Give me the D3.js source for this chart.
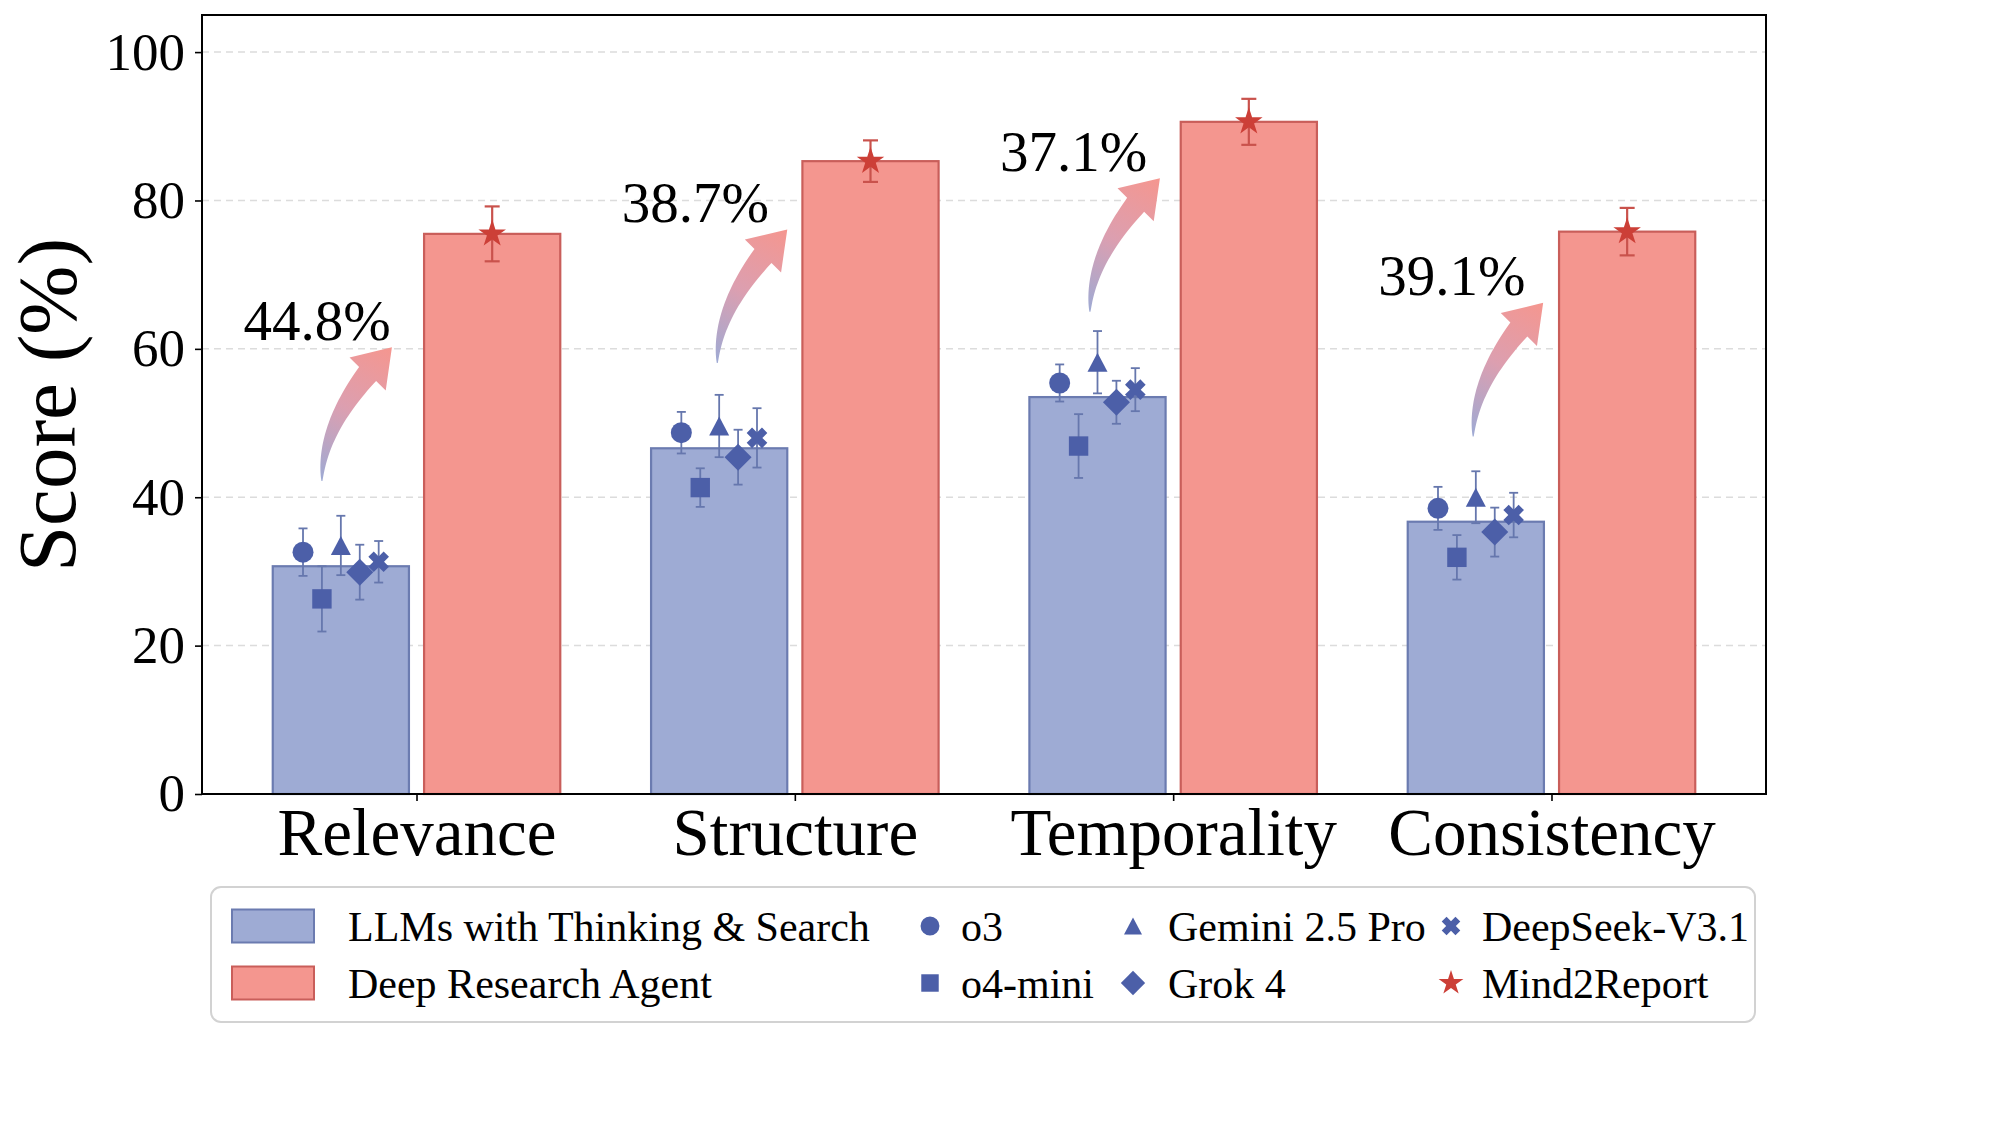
<!DOCTYPE html>
<html>
<head>
<meta charset="utf-8">
<script src="https://cdn.jsdelivr.net/npm/d3@7"></script>
<style>
  body { margin: 0; background: #fff; }
  text { font-family: "Liberation Serif", "Times New Roman", serif; fill: #000; }
</style>
</head>
<body>
<svg id="chart" width="2000" height="1125"></svg>
<script>
// ---- data ----
var categories = ["Relevance", "Structure", "Temporality", "Consistency"];
var yTicks = [0, 20, 40, 60, 80, 100];

var llmAvg = [30.7, 46.6, 53.5, 36.7];        // LLMs with Thinking & Search (bar)
var agentScore = [75.5, 85.3, 90.6, 75.8];    // Deep Research Agent (bar) = Mind2Report
var agentErr = [3.7, 2.8, 3.1, 3.2];

var models = ["o3", "o4-mini", "Gemini 2.5 Pro", "Grok 4", "DeepSeek-V3.1"];
var o3Scores = [32.6, 48.7, 55.4, 38.5];
var o4miniScores = [26.3, 41.3, 46.9, 31.9];
var geminiScores = [33.5, 49.6, 58.2, 40.0];
var grokScores = [29.9, 45.4, 52.8, 35.3];
var deepseekScores = [31.3, 48.0, 54.5, 37.6];
var o3Err = [3.2, 2.8, 2.5, 2.9];
var o4miniErr = [4.4, 2.6, 4.3, 3.0];
var geminiErr = [4.0, 4.2, 4.2, 3.5];
var grokErr = [3.7, 3.7, 2.9, 3.3];
var deepseekErr = [2.8, 4.0, 2.9, 3.0];

var modelScores = [o3Scores, o4miniScores, geminiScores, grokScores, deepseekScores];
var modelErr = [o3Err, o4miniErr, geminiErr, grokErr, deepseekErr];
var modelShapes = ["circle", "square", "triangle", "diamond", "x"];

// ---- layout ----
var svg = d3.select("#chart");
var pLeft = 202, pRight = 1766, pTop = 15, pBottom = 794;
var barW = 0.36, barOff = 0.2;
var markerOff = [-0.1, -0.05, 0, 0.05, 0.1];
var arrowTailDx = [-0.25, -0.205, -0.22, -0.207];

var blueFill = "#9eabd4", blueEdge = "#6b7bb0", blueMark = "#4c5fa8", blueErr = "#6677ad";
var redFill = "#f4968f", redEdge = "#c95e5a", redMark = "#cc3f37", redErr = "#c9524c";

var x = d3.scaleLinear().domain([-0.567, 3.567]).range([pLeft, pRight]);
var y = d3.scaleLinear().domain([0, 105]).range([pBottom, pTop]);
var bw = x(barW) - x(0);

function markerPath(shape, s) {
  var p;
  if (shape === "circle") {
    var r = 10.5 * s;
    return "M" + r + ",0A" + r + "," + r + " 0 1,1 " + (-r) + ",0A" + r + "," + r + " 0 1,1 " + r + ",0Z";
  }
  if (shape === "square") {
    var a = 9.7 * s;
    p = [[-a, -a], [a, -a], [a, a], [-a, a]];
  } else if (shape === "triangle") {
    var w = 10 * s, h = 9.5 * s;
    p = [[0, -h], [w, h], [-w, h]];
  } else if (shape === "diamond") {
    var d = 13.5 * s;
    p = [[0, -d], [d, 0], [0, d], [-d, 0]];
  } else if (shape === "x") {
    var rr = 10.8 * s, t = 3.8 * s;
    var plus = [[-t, -rr], [t, -rr], [t, -t], [rr, -t], [rr, t], [t, t], [t, rr], [-t, rr], [-t, t], [-rr, t], [-rr, -t], [-t, -t]];
    var c = Math.SQRT1_2;
    p = plus.map(function(q) { return [(q[0] - q[1]) * c, (q[0] + q[1]) * c]; });
  } else if (shape === "star") {
    var R = 14.5 * s, ri = R * 0.382;
    p = [];
    for (var k = 0; k < 10; k++) {
      var ang = -Math.PI / 2 + k * Math.PI / 5, rad = k % 2 ? ri : R;
      p.push([rad * Math.cos(ang), rad * Math.sin(ang)]);
    }
  }
  return "M" + p.map(function(q) { return q[0].toFixed(2) + "," + q[1].toFixed(2); }).join("L") + "Z";
}

// grid
svg.append("g").selectAll("line")
  .data(yTicks.filter(function(d) { return d > 0; }))
  .enter().append("line")
    .attr("x1", pLeft).attr("x2", pRight)
    .attr("y1", function(d) { return y(d); }).attr("y2", function(d) { return y(d); })
    .attr("stroke", "#dcdcdc").attr("stroke-width", 1.5).attr("stroke-dasharray", "7,5");

// bars
svg.append("g").selectAll("rect")
  .data(llmAvg)
  .enter().append("rect")
    .attr("x", function(d, i) { return x(i - barOff) - bw / 2; })
    .attr("y", function(d) { return y(d); })
    .attr("width", bw)
    .attr("height", function(d) { return y(0) - y(d); })
    .attr("fill", blueFill).attr("stroke", blueEdge).attr("stroke-width", 2.2);

svg.append("g").selectAll("rect")
  .data(agentScore)
  .enter().append("rect")
    .attr("x", function(d, i) { return x(i + barOff) - bw / 2; })
    .attr("y", function(d) { return y(d); })
    .attr("width", bw)
    .attr("height", function(d) { return y(0) - y(d); })
    .attr("fill", redFill).attr("stroke", redEdge).attr("stroke-width", 2.2);

// gain arrows
var defs = svg.append("defs");
function arrowPath(T, H) {
  var C = [T[0], H[1] + (H[0] - T[0])];
  function B(t) {
    var u = 1 - t;
    return [u * u * T[0] + 2 * u * t * C[0] + t * t * H[0], u * u * T[1] + 2 * u * t * C[1] + t * t * H[1]];
  }
  function D(t) {
    return [2 * (1 - t) * (C[0] - T[0]) + 2 * t * (H[0] - C[0]), 2 * (1 - t) * (C[1] - T[1]) + 2 * t * (H[1] - C[1])];
  }
  var headLen = 36, headHalf = 24.5, shaftHalf = 11;
  var tb = 1;
  while (tb > 0) {
    var q = B(tb);
    if (Math.hypot(H[0] - q[0], H[1] - q[1]) >= headLen) break;
    tb -= 0.002;
  }
  var L = [], Rr = [], n = 40;
  for (var k = 0; k <= n; k++) {
    var t = tb * k / n, pt = B(t), dv = D(t), len = Math.hypot(dv[0], dv[1]);
    var nx = -dv[1] / len, ny = dv[0] / len, w = 0.5 + (shaftHalf - 0.5) * Math.pow(k / n, 0.85);
    L.push([pt[0] + nx * w, pt[1] + ny * w]);
    Rr.push([pt[0] - nx * w, pt[1] - ny * w]);
  }
  var base = B(tb), hx = H[0] - base[0], hy = H[1] - base[1], hl = Math.hypot(hx, hy);
  var px = -hy / hl, py = hx / hl;
  var pts = L.concat([[base[0] + px * headHalf, base[1] + py * headHalf], H, [base[0] - px * headHalf, base[1] - py * headHalf]])
    .concat(Rr.reverse());
  return "M" + pts.map(function(q) { return q[0].toFixed(2) + "," + q[1].toFixed(2); }).join("L") + "Z";
}

categories.forEach(function(c, i) {
  var T = [x(i + arrowTailDx[i]), y(llmAvg[i] + 11.5)];
  var H = [x(i + arrowTailDx[i] + 0.185), y(llmAvg[i] + 29.5)];
  var g = defs.append("linearGradient").attr("id", "grad" + i)
    .attr("gradientUnits", "userSpaceOnUse")
    .attr("x1", T[0]).attr("y1", T[1]).attr("x2", H[0]).attr("y2", H[1]);
  g.append("stop").attr("offset", "0%").attr("stop-color", "#9eaad4");
  g.append("stop").attr("offset", "50%").attr("stop-color", "#dc9fb0");
  g.append("stop").attr("offset", "100%").attr("stop-color", "#f5968f");
  svg.append("path").attr("d", arrowPath(T, H)).attr("fill", "url(#grad" + i + ")");

  svg.append("text")
    .attr("x", x(i - 0.263))
    .attr("y", y(llmAvg[i] + 30.5))
    .attr("text-anchor", "middle")
    .attr("font-size", 57)
    .text((agentScore[i] - llmAvg[i]).toFixed(1) + "%");
});

// model error bars + markers
models.forEach(function(m, j) {
  var g = svg.append("g");
  modelScores[j].forEach(function(v, i) {
    var cx = x(i - barOff + markerOff[j]), e = modelErr[j][i];
    g.append("line").attr("x1", cx).attr("x2", cx).attr("y1", y(v - e)).attr("y2", y(v + e))
      .attr("stroke", blueErr).attr("stroke-width", 1.8);
    [v - e, v + e].forEach(function(yy) {
      g.append("line").attr("x1", cx - 4.5).attr("x2", cx + 4.5).attr("y1", y(yy)).attr("y2", y(yy))
        .attr("stroke", blueErr).attr("stroke-width", 1.8);
    });
  });
  g.selectAll("path").data(modelScores[j]).enter().append("path")
    .attr("d", markerPath(modelShapes[j], 1))
    .attr("transform", function(v, i) { return "translate(" + x(i - barOff + markerOff[j]) + "," + y(v) + ")"; })
    .attr("fill", blueMark);
});

// agent error bars + stars
agentScore.forEach(function(v, i) {
  var cx = x(i + barOff), e = agentErr[i];
  svg.append("line").attr("x1", cx).attr("x2", cx).attr("y1", y(v - e)).attr("y2", y(v + e))
    .attr("stroke", redErr).attr("stroke-width", 2.2);
  [v - e, v + e].forEach(function(yy) {
    svg.append("line").attr("x1", cx - 7.5).attr("x2", cx + 7.5).attr("y1", y(yy)).attr("y2", y(yy))
      .attr("stroke", redErr).attr("stroke-width", 2.2);
  });
  svg.append("path").attr("d", markerPath("star", 1))
    .attr("transform", "translate(" + cx + "," + y(v) + ")")
    .attr("fill", redMark);
});

// axes
var yAxis = svg.append("g").attr("transform", "translate(" + pLeft + ",0)")
  .call(d3.axisLeft(y).tickValues(yTicks).tickSize(7).tickPadding(10));
yAxis.select(".domain").remove();
yAxis.selectAll("line").attr("stroke", "#000").attr("stroke-width", 1.6);
yAxis.selectAll("text").attr("font-size", 53).attr("font-family", "Liberation Serif").attr("fill", "#000");

var xAxis = svg.append("g").attr("transform", "translate(0," + pBottom + ")")
  .call(d3.axisBottom(x).tickValues([0, 1, 2, 3]).tickFormat(function(i) { return categories[i]; })
    .tickSize(7).tickPadding(6));
xAxis.select(".domain").remove();
xAxis.selectAll("line").attr("stroke", "#000").attr("stroke-width", 1.6);
xAxis.selectAll("text").attr("font-size", 67).attr("font-family", "Liberation Serif").attr("fill", "#000");

svg.append("rect").attr("x", pLeft).attr("y", pTop)
  .attr("width", pRight - pLeft).attr("height", pBottom - pTop)
  .attr("fill", "none").attr("stroke", "#000").attr("stroke-width", 2);

svg.append("text")
  .attr("transform", "translate(75,405) rotate(-90)")
  .attr("text-anchor", "middle")
  .attr("font-size", 83)
  .text("Score (%)");

// legend
var lg = svg.append("g");
lg.append("rect").attr("x", 211).attr("y", 887).attr("width", 1544).attr("height", 135)
  .attr("rx", 10).attr("fill", "#fff").attr("stroke", "#d2d2d2").attr("stroke-width", 2);
var rowY = [926, 983];
var patches = [
  { label: "LLMs with Thinking & Search", fill: blueFill, edge: blueEdge },
  { label: "Deep Research Agent", fill: redFill, edge: redEdge }
];
patches.forEach(function(p, r) {
  lg.append("rect").attr("x", 232).attr("y", rowY[r] - 16.5).attr("width", 82).attr("height", 33)
    .attr("fill", p.fill).attr("stroke", p.edge).attr("stroke-width", 2);
  lg.append("text").attr("x", 348).attr("y", rowY[r] + 15).attr("font-size", 42).text(p.label);
});
var legMarks = [
  { label: models[0], shape: modelShapes[0], color: blueMark, col: 0, row: 0 },
  { label: models[1], shape: modelShapes[1], color: blueMark, col: 0, row: 1 },
  { label: models[2], shape: modelShapes[2], color: blueMark, col: 1, row: 0 },
  { label: models[3], shape: modelShapes[3], color: blueMark, col: 1, row: 1 },
  { label: models[4], shape: modelShapes[4], color: blueMark, col: 2, row: 0 },
  { label: "Mind2Report", shape: "star", color: redMark, col: 2, row: 1 }
];
var colMarkX = [930, 1133, 1451], colTextX = [961, 1168, 1482];
legMarks.forEach(function(d) {
  lg.append("path").attr("d", markerPath(d.shape, 0.9))
    .attr("transform", "translate(" + colMarkX[d.col] + "," + rowY[d.row] + ")")
    .attr("fill", d.color);
  lg.append("text").attr("x", colTextX[d.col]).attr("y", rowY[d.row] + 15).attr("font-size", 42).text(d.label);
});
</script>
</body>
</html>
